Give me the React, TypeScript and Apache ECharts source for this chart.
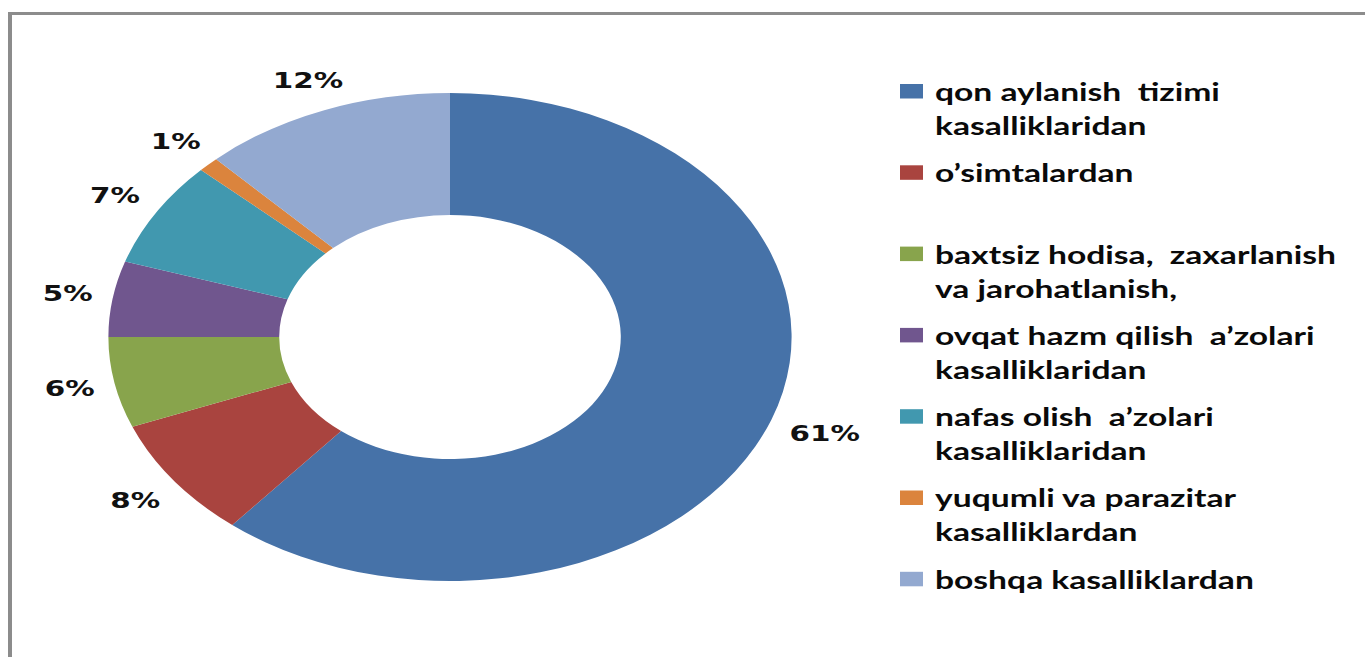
import React, { useEffect, useRef } from 'react';
import * as echarts from 'echarts';

// ---- data ----
const categories = [
  'qon aylanish  tizimi kasalliklaridan',
  'o’simtalardan',
  'baxtsiz hodisa,  zaxarlanish va jarohatlanish,',
  'ovqat hazm qilish  a’zolari kasalliklaridan',
  'nafas olish  a’zolari kasalliklaridan',
  'yuqumli va parazitar kasalliklardan',
  'boshqa kasalliklardan',
];
const legendLabels = [
  'qon aylanish  tizimi\nkasalliklaridan',
  'o’simtalardan',
  'baxtsiz hodisa,  zaxarlanish\nva jarohatlanish,',
  'ovqat hazm qilish  a’zolari\nkasalliklaridan',
  'nafas olish  a’zolari\nkasalliklaridan',
  'yuqumli va parazitar\nkasalliklardan',
  'boshqa kasalliklardan',
];
const values = [61, 8, 6, 5, 7, 1, 12];
const colors = ['#4672A8', '#A9443F', '#88A44C', '#70568E', '#4198AF', '#DB843D', '#93A9D0'];

// ---- layout (the reference picture is stretched horizontally) ----
const SX = 1.4;
const W = 1365;
const H = 657;
const CW = W / SX;
const CX = 450 / SX;
const CY = 337;
const R0 = 122;
const R1 = 244;
const GAP = 13;

export default function App() {
  const ref = useRef<HTMLDivElement>(null);
  useEffect(() => {
    if (!ref.current) return;
    const chart = echarts.init(ref.current, undefined, { renderer: 'svg' });
    const total = values.reduce((a, b) => a + b, 0);

    const legendGraphics: any[] = [];
    legendLabels.forEach((lab, i) => {
      const top = 84 + i * 81.3;
      legendGraphics.push({
        type: 'rect',
        shape: { x: 900 / SX, y: top, width: 23 / SX, height: 14.5 },
        style: { fill: colors[i] },
        silent: true,
      });
      legendGraphics.push({
        type: 'text',
        x: 935 / SX,
        y: top + 7.5 - 17,
        style: {
          text: lab,
          fill: '#0a0a0a',
          fontFamily: 'Lato',
          fontWeight: 'bold',
          fontSize: 24,
          lineHeight: 34,
          verticalAlign: 'top',
          align: 'left',
        },
        silent: true,
      });
    });

    chart.setOption({
      animation: false,
      backgroundColor: 'transparent',
      graphic: legendGraphics,
      series: [
        {
          type: 'pie',
          center: [CX, CY],
          radius: [R0, R1],
          startAngle: 90,
          clockwise: true,
          avoidLabelOverlap: false,
          silent: true,
          itemStyle: { borderWidth: 0 },
          label: {
            show: true,
            position: 'outside',
            formatter: '{c}%',
            fontFamily: 'DejaVu Sans',
            fontWeight: 'bold',
            fontSize: 21,
            color: '#111111',
          },
          labelLine: { show: false, length: 10, length2: 0 },
          labelLayout: (p: any) => {
            let before = 0;
            for (let i = 0; i < p.dataIndex; i++) before += values[i];
            const mid = ((before + values[p.dataIndex] / 2) / total) * Math.PI * 2;
            const dx = Math.sin(mid);
            const dy = -Math.cos(mid);
            const hw = p.labelRect.width / 2;
            const hh = p.labelRect.height / 2;
            let t = R1;
            for (; t < R1 + 200; t += 0.5) {
              const ex = Math.max(Math.abs(dx * t) - hw, 0);
              const ey = Math.max(Math.abs(dy * t) - hh, 0);
              if (Math.hypot(ex, ey) >= R1 + GAP) break;
            }
            return { x: CX + dx * t, y: CY + dy * t, align: 'center', verticalAlign: 'middle' };
          },
          data: categories.map((name, i) => ({
            name,
            value: values[i],
            itemStyle: { color: colors[i] },
          })),
        },
      ],
    });
    return () => chart.dispose();
  }, []);

  return (
    <div style={{ position: 'fixed', left: 0, top: 0, width: W, height: H, background: '#ffffff', overflow: 'hidden' }}>
      <div
        style={{
          position: 'absolute',
          left: 8,
          top: 12,
          width: W - 8,
          height: H - 12,
          borderTop: '3px solid #8c8c8c',
          borderLeft: '4px solid #8c8c8c',
          boxSizing: 'border-box',
        }}
      />
      <div
        ref={ref}
        style={{
          position: 'absolute',
          left: 0,
          top: 0,
          width: CW,
          height: H,
          transform: `scaleX(${SX})`,
          transformOrigin: '0 0',
        }}
      />
    </div>
  );
}
